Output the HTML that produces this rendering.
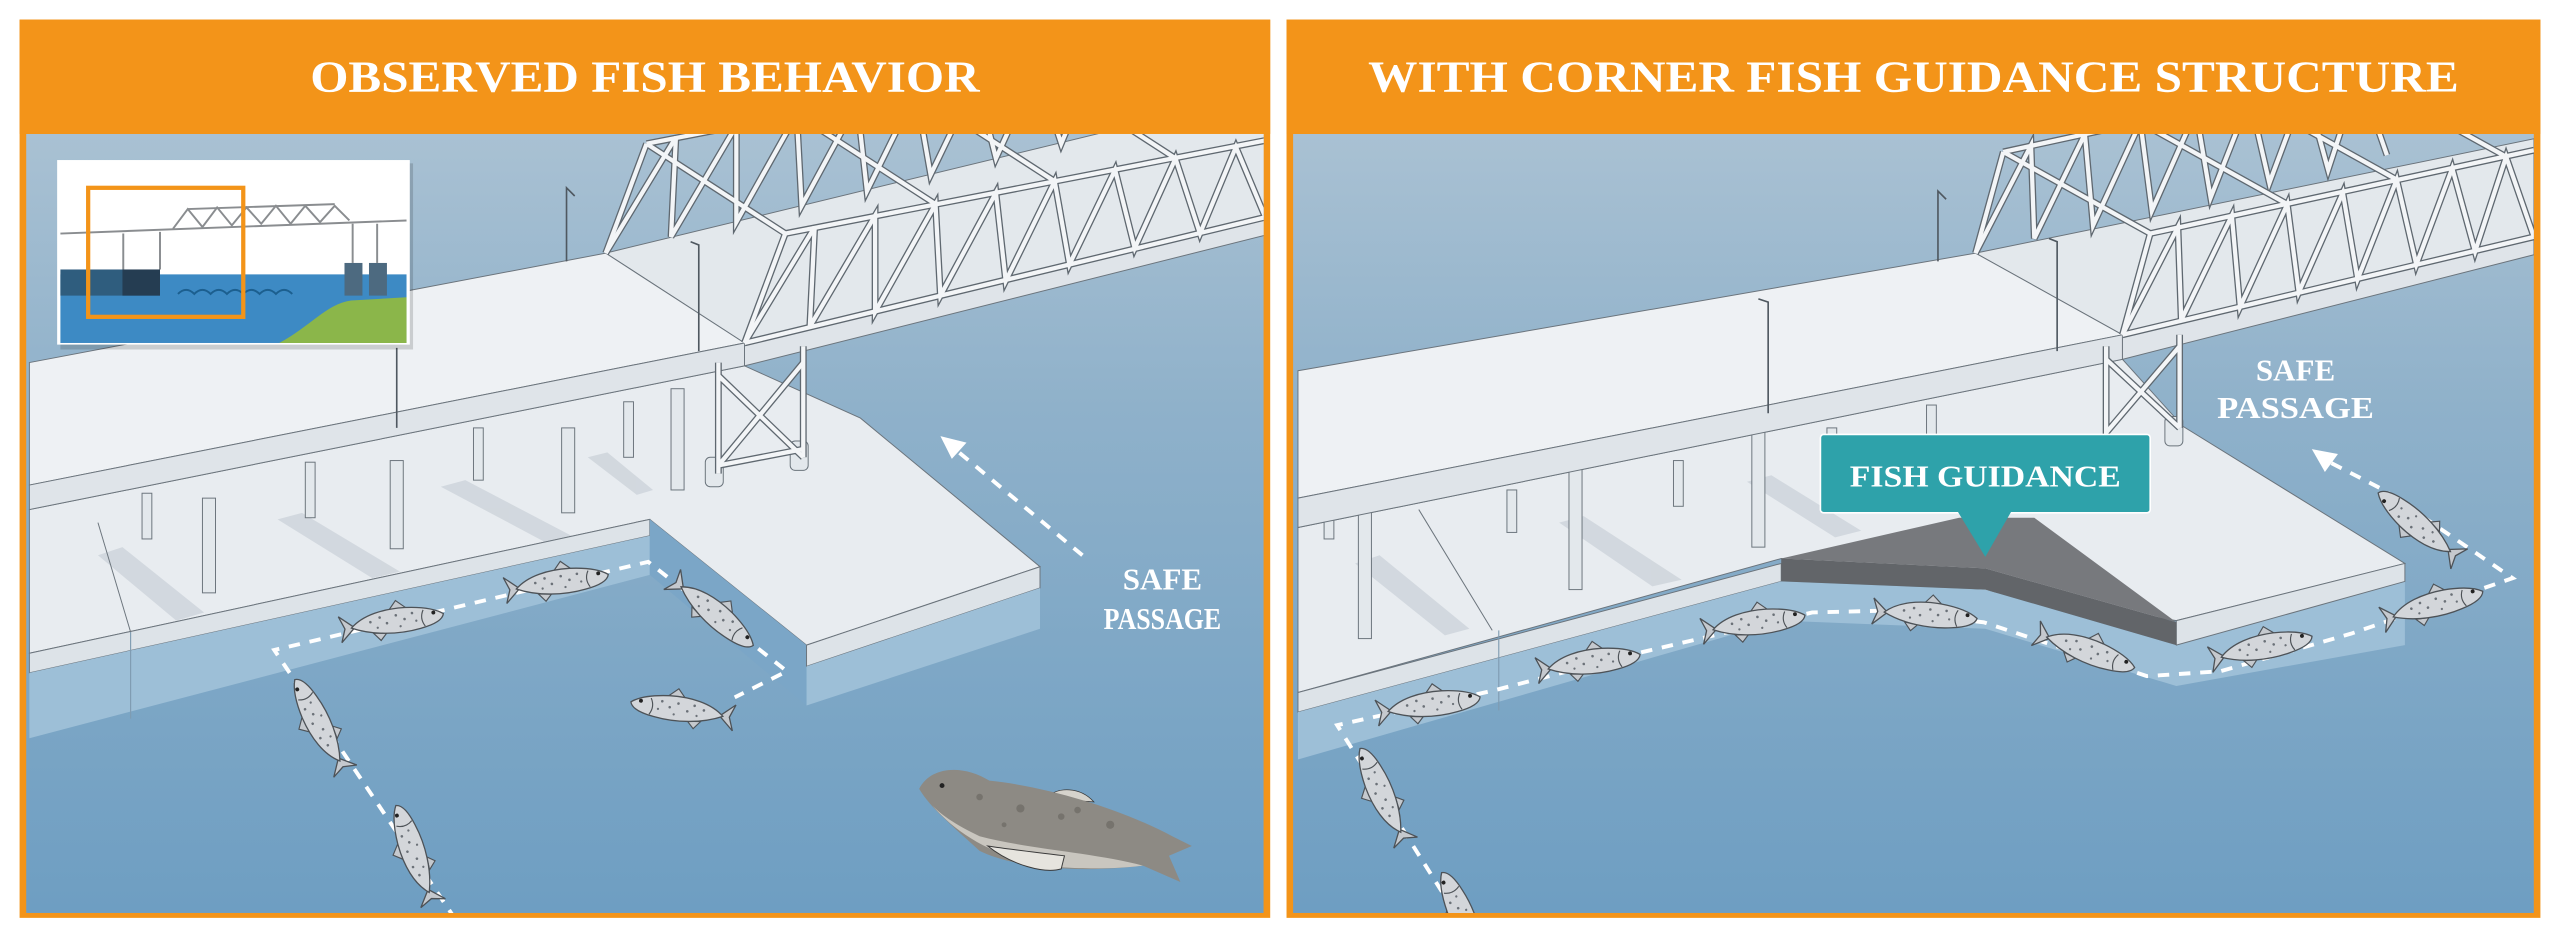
<!DOCTYPE html>
<html><head><meta charset="utf-8"><style>
html,body{margin:0;padding:0;background:#fff;}
svg{display:block;}
.t{font-family:"Liberation Serif",serif;font-weight:bold;fill:#fff;}
</style></head><body>
<svg width="2560" height="944" viewBox="0 0 1568 578" preserveAspectRatio="none" xmlns="http://www.w3.org/2000/svg">
<defs>
<linearGradient id="wat" x1="0" y1="0" x2="0" y2="1">
<stop offset="0" stop-color="#a9c1d3"/><stop offset="0.35" stop-color="#8fb1ca"/><stop offset="1" stop-color="#6e9ec2"/>
</linearGradient>
<clipPath id="cl"><rect x="16" y="82" width="758" height="477"/></clipPath>
<clipPath id="cr"><rect x="792" y="82" width="760" height="477"/></clipPath>
<g id="fish">
<path d="M-24,0 L-33,-8 L-30,0 L-33,8 Z" fill="#c5c9ce" stroke="#4d5257" stroke-width="0.8"/>
<path d="M-2,-7.5 L3,-13 L9,-7.5 Z M-13,5 L-9,10 L-5,6 Z" fill="#c5c9ce" stroke="#4d5257" stroke-width="0.7"/>
<path d="M-26,0 C-18,-7 -5,-9 8,-8 C18,-7 26,-5 31,-1 C30,3 24,5 16,6 C2,8 -14,6 -26,0 Z" fill="#d3d6da" stroke="#4d5257" stroke-width="0.8"/>
<path d="M19,-5 Q16,0 19,5" fill="none" stroke="#4d5257" stroke-width="0.7"/>
<circle cx="25" cy="-2.5" r="1.2" fill="#222"/>
<g fill="#6b7178"><circle cx="-14" cy="-2" r=".8"/><circle cx="-8" cy="-4" r=".8"/><circle cx="-4" cy="0" r=".8"/><circle cx="2" cy="-4" r=".8"/><circle cx="7" cy="-1" r=".8"/><circle cx="12" cy="-4" r=".8"/><circle cx="-10" cy="2" r=".7"/><circle cx="4" cy="3" r=".7"/><circle cx="14" cy="1" r=".7"/></g>
</g>
<g id="trL" fill="none">
<polyline points="456,210 499,139 496,200 536,132 536,191 573,125 576,181 610,118 616,172 646,111 655,162 683,104 695,152 720,97 735,143 757,90 775,133"/>
<line x1="456" y1="210" x2="775" y2="133"/><line x1="481" y1="143" x2="775" y2="86"/><line x1="456" y1="210" x2="481" y2="143"/>
<g transform="translate(-85,-55)"><polyline points="456,210 499,139 496,200 536,132 536,191 573,125 576,181 610,118 616,172 646,111 655,162 683,104 695,152 720,97 735,143 757,90 775,133"/><line x1="481" y1="143" x2="775" y2="86"/><line x1="456" y1="210" x2="481" y2="143"/></g>
<line x1="481" y1="143" x2="396" y2="88"/><line x1="573" y1="125" x2="488" y2="70"/><line x1="646" y1="111" x2="561" y2="56"/><line x1="720" y1="97" x2="635" y2="42"/>
<line x1="440" y1="222" x2="440" y2="290"/><line x1="492" y1="212" x2="492" y2="280"/><line x1="440" y1="230" x2="492" y2="280"/><line x1="492" y1="222" x2="440" y2="285"/><line x1="440" y1="285" x2="492" y2="275"/>
</g>
<g id="trR" fill="none">
<polyline points="1300,205 1334,139 1336,196 1367,132 1372,188 1401,125 1408,179 1435,118 1444,171 1468,110 1480,162 1502,103 1516,154 1535,96 1552,145"/>
<line x1="1300" y1="205" x2="1552" y2="145"/><line x1="1317" y1="143" x2="1552" y2="92"/><line x1="1300" y1="205" x2="1317" y2="143"/>
<g transform="translate(-90,-50)"><polyline points="1300,205 1334,139 1336,196 1367,132 1372,188 1401,125 1408,179 1435,118 1444,171 1468,110 1480,162 1502,103 1516,154 1535,96 1552,145"/><line x1="1317" y1="143" x2="1552" y2="92"/><line x1="1300" y1="205" x2="1317" y2="143"/></g>
<line x1="1317" y1="143" x2="1227" y2="93"/><line x1="1401" y1="125" x2="1311" y2="75"/><line x1="1468" y1="110" x2="1378" y2="60"/><line x1="1535" y1="96" x2="1445" y2="46"/>
<line x1="1290" y1="212" x2="1290" y2="270"/><line x1="1335" y1="205" x2="1335" y2="262"/><line x1="1290" y1="220" x2="1335" y2="262"/><line x1="1335" y1="212" x2="1290" y2="265"/>
</g>
</defs>

<rect x="12" y="12" width="766" height="550" fill="#f39419"/>
<rect x="788" y="12" width="768" height="550" fill="#f39419"/>

<g clip-path="url(#cl)">
<rect x="16" y="82" width="758" height="477" fill="url(#wat)"/>
<polygon points="18,312 456,224 527,256 637,347 494,395 398,318 18,400" fill="#e8ecf0" stroke="#6b747c" stroke-width="0.6"/>
<g fill="#b9c2ca" opacity="0.45">
<polygon points="60,340 75,335 125,375 108,380"/><polygon points="170,318 185,314 245,350 228,354"/><polygon points="270,298 285,294 350,328 334,332"/><polygon points="360,280 372,277 400,300 390,303"/>
</g>
<polygon points="18,400 398,318 398,328 18,412" fill="#dde3e8" stroke="#6b747c" stroke-width="0.6"/>
<polygon points="18,412 398,328 398,352 18,452" fill="#9dbfd7"/>
<polygon points="398,318 494,395 494,432 398,352" fill="#7ba6c7"/>
<polygon points="494,395 637,347 637,360 494,408" fill="#dde3e8" stroke="#6b747c" stroke-width="0.6"/>
<polygon points="494,408 637,360 637,385 494,432" fill="#9dbfd7"/>
<line x1="80" y1="387" x2="80" y2="440" stroke="#7f9bb1" stroke-width="0.7"/>
<line x1="60" y1="320" x2="80" y2="387" stroke="#6b747c" stroke-width="0.6"/>
<g fill="#e3e8ec" stroke="#6b747c" stroke-width="0.6">
<rect x="87" y="302" width="6" height="28"/><rect x="187" y="283" width="6" height="34"/><rect x="290" y="262" width="6" height="32"/><rect x="382" y="246" width="6" height="34"/>
<rect x="124" y="305" width="8" height="58"/><rect x="239" y="282" width="8" height="54"/><rect x="344" y="262" width="8" height="52"/><rect x="411" y="238" width="8" height="62"/>
<rect x="432" y="280" width="11" height="18" rx="3"/><rect x="484" y="270" width="11" height="18" rx="3"/>
</g>
<polygon points="371,155 775,57 775,133 456,210" fill="#e3e8ec" stroke="#6b747c" stroke-width="0.6"/>
<polygon points="18,222 371,155 456,210 18,297" fill="#eef1f4" stroke="#6b747c" stroke-width="0.6"/>
<polygon points="18,297 456,210 456,224 18,312" fill="#dfe4e9" stroke="#6b747c" stroke-width="0.6"/>
<polygon points="456,210 775,133 775,144 456,224" fill="#dfe4e9" stroke="#6b747c" stroke-width="0.6"/>
<use href="#trL" stroke="#5f6870" stroke-width="4.2"/>
<use href="#trL" stroke="#f3f5f7" stroke-width="2.6"/>
<g stroke="#4f5860" stroke-width="1" fill="none">
<path d="M347,160 L347,115 L352,120"/><path d="M428,215 L428,150 L423,148"/><path d="M243,262 L243,213"/>
</g>
<path d="M279,563 L168,398 L397,344 L482,411 L450,427" fill="none" stroke="#fff" stroke-width="2.4" stroke-dasharray="7 6"/>
<use href="#fish" transform="translate(241,381) rotate(-8)"/>
<use href="#fish" transform="translate(342,357) rotate(-8)"/>
<use href="#fish" transform="translate(437,376) rotate(40)"/>
<use href="#fish" transform="translate(417,435) scale(-1,1) rotate(-8)"/>
<use href="#fish" transform="translate(196,443) rotate(-118)"/>
<use href="#fish" transform="translate(254,522) rotate(-110)"/>
<path d="M663,340 L585,275" fill="none" stroke="#fff" stroke-width="2.4" stroke-dasharray="7 6"/>
<polygon points="576,267 592,271 583,281" fill="#fff"/>
<text class="t" x="712" y="361" font-size="19" text-anchor="middle">SAFE</text>
<text class="t" x="712" y="385" font-size="19" text-anchor="middle" textLength="72" lengthAdjust="spacingAndGlyphs">PASSAGE</text>
<path d="M640,489 C648,481 662,482 670,491 Z" fill="#d6d3cc" stroke="#3a3a3a" stroke-width="0.5"/>
<path d="M563,483 C570,469 590,468 606,478 C645,482 690,497 718,512 L730,518 L716,524 L723,540 L700,530 C660,535 620,531 600,521 C585,507 570,495 563,483 Z" fill="#8d8a84"/>
<path d="M570,492 C585,510 610,527 650,531 C680,533 700,530 700,530 C670,522 630,520 600,512 C585,505 575,498 570,492 Z" fill="#c9c6bf"/>
<path d="M605,518 C620,530 640,535 650,532 L652,524 C635,522 618,520 605,518 Z" fill="#e6e4de" stroke="#3a3a3a" stroke-width="0.6"/>
<circle cx="577" cy="481" r="1.5" fill="#222"/>
<g fill="#76736d"><circle cx="600" cy="488" r="2"/><circle cx="625" cy="495" r="2.5"/><circle cx="650" cy="500" r="2"/><circle cx="680" cy="505" r="2.5"/><circle cx="615" cy="505" r="1.5"/><circle cx="660" cy="496" r="2"/></g>
<rect x="37" y="100" width="216" height="114" fill="#000" opacity="0.15"/>
<rect x="35" y="98" width="216" height="113" fill="#fff"/>
<rect x="37" y="168" width="212" height="42" fill="#3d8ac4"/>
<rect x="37" y="165" width="61" height="16" fill="#2f5d7e"/>
<rect x="75" y="165" width="23" height="16" fill="#253d52"/>
<path d="M171,210 C190,200 200,186 215,184 L249,182 L249,210 Z" fill="#8bb64a"/>
<rect x="211" y="161" width="11" height="20" fill="#4d6a80"/><rect x="226" y="161" width="11" height="20" fill="#4d6a80"/>
<g stroke="#8a8d90" stroke-width="1.2" fill="none">
<line x1="37" y1="143" x2="249" y2="135"/>
<line x1="75.5" y1="143" x2="75.5" y2="165"/><line x1="98" y1="142" x2="98" y2="165"/>
<line x1="216" y1="137" x2="216" y2="161"/><line x1="231" y1="137" x2="231" y2="161"/>
<polyline points="106,140 115,128 124,139 133,127 142,138 151,127 160,137 169,126 178,137 187,126 196,136 205,126 214,135"/>
<line x1="115" y1="128" x2="205" y2="125"/>
</g>
<path d="M109,180 q5,-5 10,0 q5,-5 10,0 q5,-5 10,0 q5,-5 10,0 q5,-5 10,0 q5,-5 10,0 q5,-5 10,0" fill="none" stroke="#1c5f8f" stroke-width="1.2"/>
<rect x="54" y="115" width="95" height="79" fill="none" stroke="#f39419" stroke-width="2.6"/>
</g>

<g clip-path="url(#cr)">
<rect x="792" y="82" width="760" height="477" fill="url(#wat)"/>
<polygon points="795,323 1300,220 1337,261 1473,345 1333,380 1091,342 795,424" fill="#e8ecf0" stroke="#6b747c" stroke-width="0.6"/>
<g fill="#b9c2ca" opacity="0.45">
<polygon points="830,345 845,340 900,385 885,389"/><polygon points="955,320 970,316 1030,355 1012,359"/><polygon points="1070,295 1085,291 1140,325 1124,329"/>
</g>
<polygon points="795,424 1091,345 1091,356 795,436" fill="#dde3e8" stroke="#6b747c" stroke-width="0.6"/>
<polygon points="795,436 1091,356 1216,361 1333,395 1473,356 1473,395 1333,420 1216,385 1091,380 795,465" fill="#9dbfd7"/>
<polygon points="1333,380 1473,345 1473,356 1333,395" fill="#dde3e8" stroke="#6b747c" stroke-width="0.6"/>
<polygon points="1091,342 1200,317 1246,317 1333,381 1216,348" fill="#77797d"/>
<polygon points="1091,342 1216,348 1333,381 1333,395 1216,361 1091,356" fill="#626569"/>
<line x1="918" y1="386" x2="918" y2="435" stroke="#7f9bb1" stroke-width="0.7"/>
<line x1="869" y1="312" x2="914" y2="386" stroke="#6b747c" stroke-width="0.6"/>
<g fill="#e3e8ec" stroke="#6b747c" stroke-width="0.6">
<rect x="811" y="316" width="6" height="14"/><rect x="923" y="300" width="6" height="26"/><rect x="1025" y="282" width="6" height="28"/><rect x="1119" y="262" width="6" height="32"/><rect x="1180" y="248" width="6" height="45"/>
<rect x="832" y="313" width="8" height="78"/><rect x="961" y="285" width="8" height="76"/><rect x="1073" y="258" width="8" height="77"/>
<rect x="1326" y="255" width="11" height="18" rx="3"/>
</g>
<polygon points="1210,155 1552,85 1552,145 1300,205" fill="#e3e8ec" stroke="#6b747c" stroke-width="0.6"/>
<polygon points="795,227 1210,155 1300,205 795,305" fill="#eef1f4" stroke="#6b747c" stroke-width="0.6"/>
<polygon points="795,305 1300,205 1300,220 795,323" fill="#dfe4e9" stroke="#6b747c" stroke-width="0.6"/>
<polygon points="1300,205 1552,145 1552,156 1300,220" fill="#dfe4e9" stroke="#6b747c" stroke-width="0.6"/>
<use href="#trR" stroke="#5f6870" stroke-width="4.2"/>
<use href="#trR" stroke="#f3f5f7" stroke-width="2.6"/>
<g stroke="#4f5860" stroke-width="1" fill="none">
<path d="M1083,253 L1083,185 L1077,183"/><path d="M1187,160 L1187,117 L1192,122"/><path d="M1260,215 L1260,148 L1255,146"/>
</g>
<rect x="1115" y="266" width="202" height="48" rx="2" fill="#2ea2aa" stroke="#fff" stroke-width="1"/>
<polygon points="1199,313 1232,313 1216,341" fill="#2ea2aa"/>
<text class="t" x="1216" y="298" font-size="19" text-anchor="middle" textLength="166" lengthAdjust="spacingAndGlyphs">FISH GUIDANCE</text>
<path d="M904,579 L819,444 L914,423 L1007,399 L1110,375 L1150,374 L1215,381 L1315,414 L1360,411 L1440,388 L1539,354 L1460,300 L1425,282" fill="none" stroke="#fff" stroke-width="2.4" stroke-dasharray="7 6"/>
<polygon points="1416,275 1432,278 1424,289" fill="#fff"/>
<use href="#fish" transform="translate(876,432) rotate(-8)"/>
<use href="#fish" transform="translate(974,406) rotate(-8)"/>
<use href="#fish" transform="translate(1075,382) rotate(-8)"/>
<use href="#fish" transform="translate(1180,377) rotate(5)"/>
<use href="#fish" transform="translate(1278,399) rotate(20)"/>
<use href="#fish" transform="translate(1386,397) rotate(-12)"/>
<use href="#fish" transform="translate(1491,371) rotate(-15)"/>
<use href="#fish" transform="translate(1481,321) rotate(-140)"/>
<use href="#fish" transform="translate(847,486) rotate(-115)"/>
<use href="#fish" transform="translate(897,562) rotate(-115)"/>
<text class="t" x="1406" y="233" font-size="19" text-anchor="middle">SAFE</text>
<text class="t" x="1406" y="256" font-size="19" text-anchor="middle" textLength="96" lengthAdjust="spacingAndGlyphs">PASSAGE</text>
</g>

<rect x="12" y="12" width="766" height="70" fill="#f39419"/>
<rect x="788" y="12" width="768" height="70" fill="#f39419"/>
<text class="t" x="395" y="56" font-size="27" text-anchor="middle" textLength="410" lengthAdjust="spacingAndGlyphs">OBSERVED FISH BEHAVIOR</text>
<text class="t" x="1172" y="56" font-size="27" text-anchor="middle" textLength="668" lengthAdjust="spacingAndGlyphs">WITH CORNER FISH GUIDANCE STRUCTURE</text>
</svg>
</body></html>
